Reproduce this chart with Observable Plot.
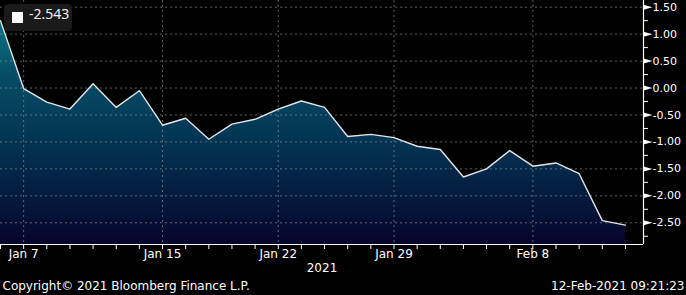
<!DOCTYPE html>
<html>
<head>
<meta charset="utf-8">
<script src="https://cdn.jsdelivr.net/npm/d3@7"></script>
<script src="https://cdn.jsdelivr.net/npm/@observablehq/plot@0.6"></script>
<style>
  html, body { margin: 0; padding: 0; background: #000; }
  #wrap { position: relative; width: 686px; height: 295px; overflow: hidden; background: #000; }
  #legend { position: absolute; left: 4px; top: 4px; width: 68px; height: 27px; background: #1a1a1a; border-radius: 4px; }
  #legend .sw { position: absolute; left: 8px; top: 8px; width: 11px; height: 11px; background: #fff; }
  #legend .lbl { position: absolute; left: 25px; top: 0; line-height: 27px; font: 14px "Open Sans", sans-serif; color: #fff; }
</style>
</head>
<body>
<div id="wrap"></div>
<script>
// ---- data ----
const dates = ["Jan 6","Jan 7","Jan 8","Jan 11","Jan 12","Jan 13","Jan 14","Jan 15","Jan 18","Jan 19","Jan 20","Jan 21","Jan 22","Jan 25","Jan 26","Jan 27","Jan 28","Jan 29","Feb 1","Feb 2","Feb 3","Feb 4","Feb 5","Feb 8","Feb 9","Feb 10","Feb 11","Feb 12"];
const values = [1.25, -0.01, -0.26, -0.39, 0.08, -0.36, -0.05, -0.69, -0.56, -0.95, -0.67, -0.58, -0.39, -0.24, -0.36, -0.90, -0.86, -0.92, -1.08, -1.14, -1.65, -1.50, -1.16, -1.45, -1.39, -1.59, -2.46, -2.543];
const xLabelDates = ["Jan 7","Jan 15","Jan 22","Jan 29","Feb 8"];
const yTicks = [-2.5, -2.0, -1.5, -1.0, -0.5, 0.0, 0.5, 1.0, 1.5];
const yMinorTicks = [-2.75,-2.5,-2.25,-2.0,-1.75,-1.5,-1.25,-1.0,-0.75,-0.5,-0.25,0,0.25,0.5,0.75,1.0,1.25,1.5];
const yearLabel = "2021";
const copyright = "Copyright\u00A9 2021 Bloomberg Finance L.P.";
const timestamp = "12-Feb-2021 09:21:23";

const data = dates.map((d, i) => ({i, date: d, v: values[i]}));
const labelIdx = xLabelDates.map(d => dates.indexOf(d));
const labelMap = new Map(labelIdx.map((i, k) => [i, xLabelDates[k]]));
const xMax = 27.78, yMin = -2.903, yMax = 1.624;

const arrow = {
  draw(ctx) { ctx.moveTo(0, -2.5); ctx.lineTo(9, 0); ctx.lineTo(0, 2.5); ctx.closePath(); }
};

const grad = () => {
  const defs = d3.create("svg:defs");
  const g = defs.append("linearGradient").attr("id", "bbgGrad")
    .attr("gradientUnits", "userSpaceOnUse").attr("x1", 0).attr("x2", 0).attr("y1", 0).attr("y2", 244);
  [["0%", "#0e828c"], ["30%", "#064e67"], ["60%", "#033252"], ["100%", "#06052c"]]
    .forEach(([o, c]) => g.append("stop").attr("offset", o).attr("stop-color", c));
  return defs.node();
};

const chart = Plot.plot({
  width: 686,
  height: 295,
  marginLeft: 0,
  marginRight: 43,
  marginTop: 0,
  marginBottom: 51,
  style: {background: "#000", color: "#fff", fontFamily: "DejaVu Sans, sans-serif", fontSize: "12px"},
  x: {type: "linear", domain: [0, xMax], axis: null, label: null},
  y: {domain: [yMin, yMax], axis: null, label: null},
  marks: [
    grad,
    Plot.areaY(data, {x: "i", y1: () => yMin, y2: "v", fill: "url(#bbgGrad)"}),
    Plot.ruleY(yTicks, {stroke: "#8a8a8a", strokeOpacity: 0.7, strokeDasharray: "2,3"}),
    Plot.ruleX(labelIdx, {stroke: "#8a8a8a", strokeOpacity: 0.7, strokeDasharray: "2,3"}),
    Plot.lineY(data, {x: "i", y: "v", stroke: "#e4e4e4", strokeWidth: 1.4}),
    Plot.ruleY([yMin], {stroke: "#fff", strokeWidth: 1.2}),
    Plot.ruleX([xMax], {stroke: "#fff", strokeWidth: 1.2}),
    Plot.axisX({anchor: "bottom", label: null, ticks: d3.range(0, dates.length), tickSize: 5, tickPadding: 0,
      tickFormat: i => labelMap.get(i) ?? "", fontSize: 12, fill: "#fff", stroke: "#fff"}),
    Plot.axisY({anchor: "right", label: null, ticks: yMinorTicks, tickSize: 4, tickFormat: () => "", stroke: "#fff"}),
    Plot.axisY({anchor: "right", label: null, ticks: yTicks, tickSize: 0, tickPadding: 9, textAnchor: "start",
      tickFormat: d => d.toFixed(2), fontSize: 11, fill: "#fff"}),
    Plot.dot(yTicks, {x: () => xMax, y: d => d, symbol: arrow, r: 3, fill: "#fff", stroke: "none"}),
    Plot.text([yearLabel], {frameAnchor: "bottom", dy: 24, lineAnchor: "middle", fill: "#fff", fontSize: 12}),
    Plot.text([copyright], {frameAnchor: "bottom-left", dx: 2, dy: 42, textAnchor: "start", lineAnchor: "middle", fill: "#fff", fontSize: 12}),
    Plot.text([timestamp], {frameAnchor: "bottom-right", dx: 41, dy: 42, textAnchor: "end", lineAnchor: "middle", fill: "#fff", fontSize: 12})
  ]
});

const wrap = document.getElementById("wrap");
wrap.appendChild(chart);
const legend = document.createElement("div");
legend.id = "legend";
legend.innerHTML = `<div class="sw"></div><div class="lbl">${d3.format(".3f")(values[values.length - 1]).replace("\u2212", "-")}</div>`;
wrap.appendChild(legend);
</script>
</body>
</html>
